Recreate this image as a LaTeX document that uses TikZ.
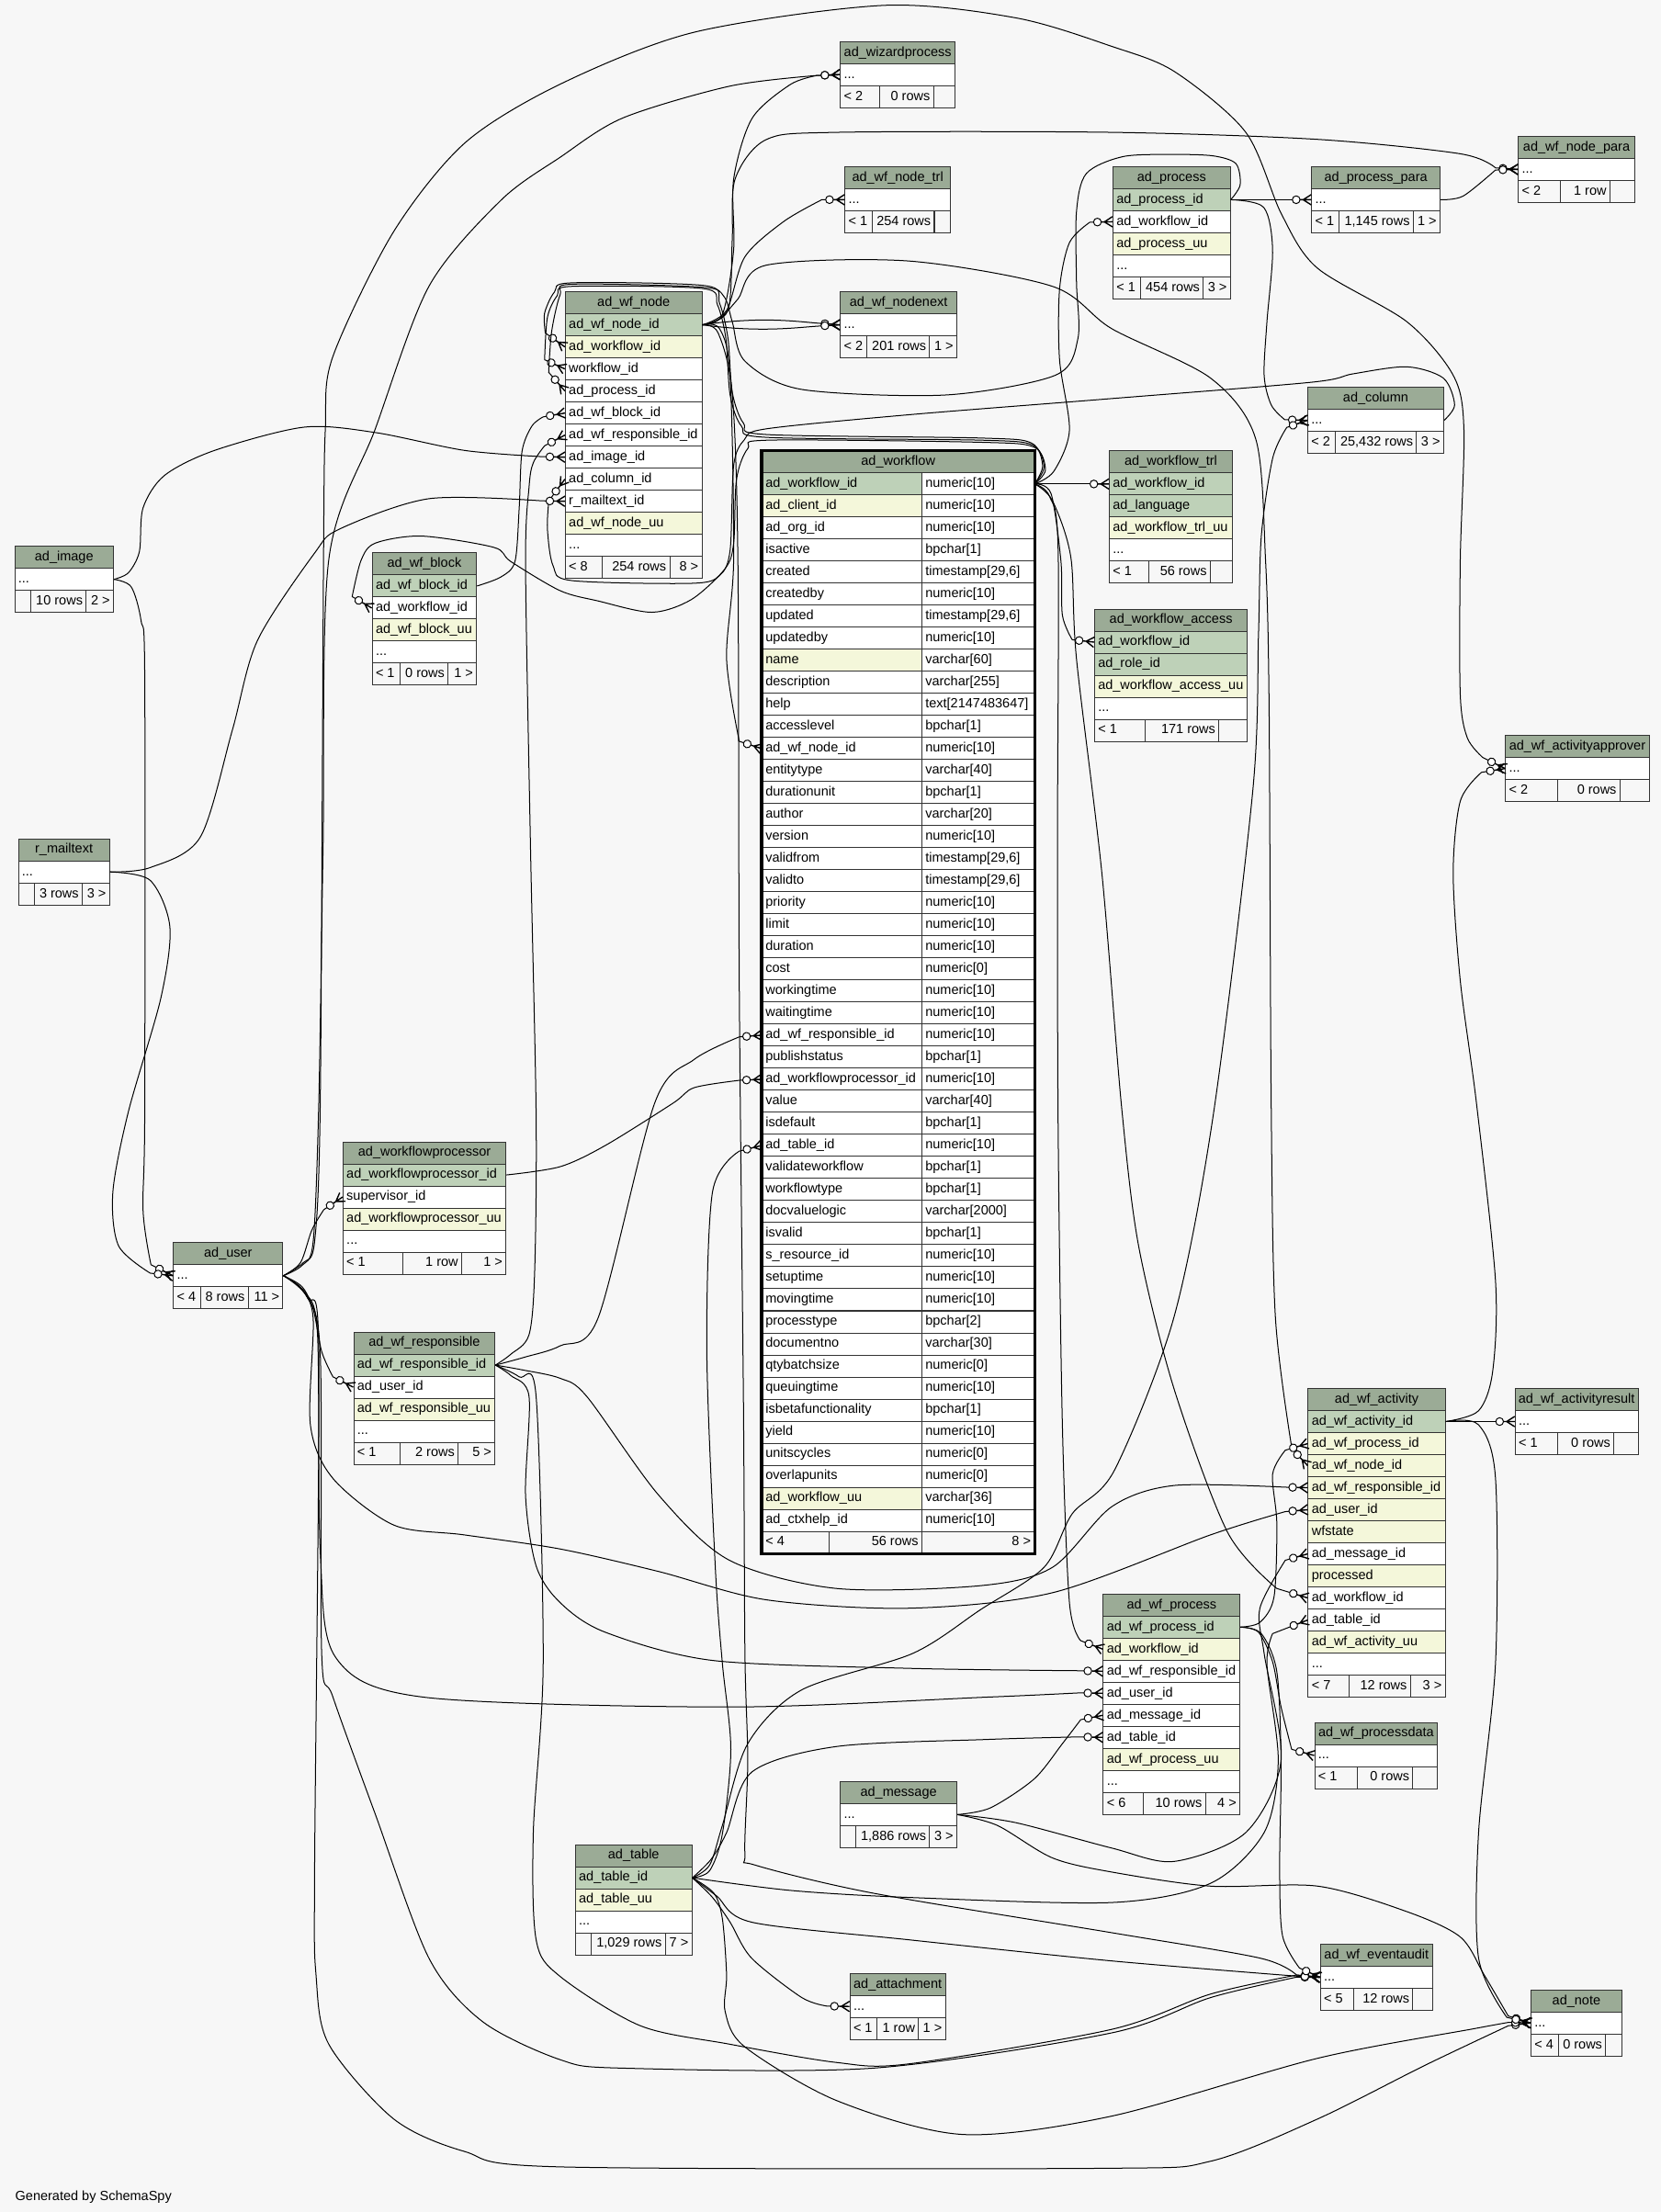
\documentclass[tikz,border=0pt]{standalone}
\usepackage{fontspec}
\setmainfont{Liberation Sans}
\usepackage{tikz}
\usetikzlibrary{arrows.meta}

\definecolor{hdcol}{HTML}{9BAB96}
\definecolor{pkcol}{HTML}{BED1B8}
\definecolor{ixcol}{HTML}{F4F7DA}
\definecolor{bgcol}{HTML}{F7F7F7}

\newcommand{\pxu}{0.7675pt}
\newcommand{\rowh}{15.63}
\newcommand{\more}{...}
\newcommand{\tblfont}{\fontsize{7.25pt}{8.7pt}\selectfont}

% zero-or-many end: open circle and crow's foot
\pgfdeclarearrow{
  name = crowdot,
  setup code = {
    \pgfarrowssettipend{0pt}
    \pgfarrowssetlineend{-10.3pt}
    \pgfarrowssetbackend{-10.3pt}
  },
  drawing code = {
    \pgfsetlinewidth{0.7pt}
    \pgfpathmoveto{\pgfpoint{0pt}{2.8pt}}
    \pgfpathlineto{\pgfpoint{-4.4pt}{0pt}}
    \pgfpathlineto{\pgfpoint{0pt}{-2.8pt}}
    \pgfpathmoveto{\pgfpoint{0pt}{0pt}}
    \pgfpathlineto{\pgfpoint{-6.1pt}{0pt}}
    \pgfusepathqstroke
    \pgfsetlinewidth{0.5pt}
    \pgfpathcircle{\pgfpoint{-8.2pt}{0pt}}{2.1pt}
    \pgfsetfillcolor{white}
    \pgfusepathqfillstroke
  },
  parameters = {}
}

\tikzset{
  tcell/.style={
    draw=black!80,
    line width=0.5pt,
    anchor=north west,
    inner xsep=1.92pt,
    inner ysep=0pt,
    minimum height=12pt,
    text height=5.4pt,
    text depth=1.6pt,
    font=\tblfont
  },
  fk/.style={
    draw=black,
    line width=0.5pt,
    line join=round,
    -{crowdot}
  },
  thickframe/.style={
    draw=black,
    line width=1.6pt
  }
}

% one cell: name, left, top, width, fill, align, text
\newcommand{\dbcell}[7]{%
  \pgfmathsetlengthmacro{\cellw}{#4*\pxu-3.84pt}%
  \node[tcell, fill=#5] (#1) at ({#2},{#3}) {\makebox[\cellw][#6]{\ignorespaces#7\unskip}};%
}
% table: name, left, top, width, title, rows
\newcommand{\dbtable}[6]{%
  \dbcell{#1}{#2}{#3}{#4}{hdcol}{c}{#5}
  \foreach \txt/\kind [count=\i] in {#6}{%
    \dbcell{#1-\i}{#2}{#3+\i*\rowh}{#4}{\kind}{l}{\txt}
    \xdef\nrows{\i}}%
  \xdef\tleft{#2}\xdef\ttop{#3}\xdef\twidth{#4}%
}
% footer: name, divider 1, divider 2, texts
\newcommand{\dbfoot}[6]{%
  \pgfmathsetmacro{\ftop}{\ttop+(\nrows+1)*\rowh}%
  \pgfmathsetmacro{\fwa}{#2-\tleft}%
  \pgfmathsetmacro{\fwb}{#3-#2}%
  \pgfmathsetmacro{\fwc}{\tleft+\twidth-#3}%
  \dbcell{#1-l}{\tleft}{\ftop}{\fwa}{bgcol}{l}{#4}
  \dbcell{#1-m}{#2}{\ftop}{\fwb}{bgcol}{r}{#5}
  \dbcell{#1-r}{#3}{\ftop}{\fwc}{bgcol}{r}{#6}%
}

\begin{document}
\begin{tikzpicture}[x=0.7675pt, y=-0.7675pt]

\fill[bgcol] (0,0) rectangle (1177,1568);
\useasboundingbox (0,0) rectangle (1177,1568);

% tables
\dbtable{wizard}{595.3}{29.1}{81.3}{ad\_wizardprocess}{\more/white}
\dbfoot{wizard}{622.9}{661.4}{< 2}{0 rows}{}

\dbtable{nodetrl}{598.6}{117.8}{74.7}{ad\_wf\_node\_trl}{\more/white}
\dbfoot{nodetrl}{618.1}{661.9}{< 1}{254 rows}{}

\dbtable{nodenext}{595.3}{206.5}{82.6}{ad\_wf\_nodenext}{\more/white}
\dbfoot{nodenext}{614.3}{658.6}{< 2}{201 rows}{1 >}

\dbtable{wfnode}{400.4}{206.5}{96.8}{ad\_wf\_node}{ad\_wf\_node\_id/pkcol,%
ad\_workflow\_id/ixcol,workflow\_id/white,ad\_process\_id/white,%
ad\_wf\_block\_id/white,ad\_wf\_responsible\_id/white,ad\_image\_id/white,%
ad\_column\_id/white,r\_mailtext\_id/white,ad\_wf\_node\_uu/ixcol,\more/white}
\dbfoot{wfnode}{426.3}{474.4}{< 8}{254 rows}{8 >}

\dbtable{process}{788.5}{117.8}{83.2}{ad\_process}{ad\_process\_id/pkcol,%
ad\_workflow\_id/white,ad\_process\_uu/ixcol,\more/white}
\dbfoot{process}{807.8}{852.6}{< 1}{454 rows}{3 >}

\dbtable{procpara}{929.4}{117.8}{91}{ad\_process\_para}{\more/white}
\dbfoot{procpara}{948.7}{1001.4}{< 1}{1,145 rows}{1 >}

\dbtable{nodepara}{1075.9}{96.3}{82.4}{ad\_wf\_node\_para}{\more/white}
\dbfoot{nodepara}{1105.8}{1140.8}{< 2}{1 row}{}

\dbtable{column}{926.6}{274.2}{96.3}{ad\_column}{\more/white}
\dbfoot{column}{946.2}{1003.7}{< 2}{25,432 rows}{3 >}

\dbtable{wftrl}{786}{319.3}{87.2}{ad\_workflow\_trl}{ad\_workflow\_id/pkcol,%
ad\_language/pkcol,ad\_workflow\_trl\_uu/ixcol,\more/white}
\dbfoot{wftrl}{813.9}{857.5}{< 1}{56 rows}{}

\dbtable{wfaccess}{775.5}{431.4}{108.3}{ad\_workflow\_access}{ad\_workflow\_id/pkcol,%
ad\_role\_id/pkcol,ad\_workflow\_access\_uu/ixcol,\more/white}
\dbfoot{wfaccess}{811.3}{863.6}{< 1}{171 rows}{}

\dbtable{approver}{1066.8}{521}{101.8}{ad\_wf\_activityapprover}{\more/white}
\dbfoot{approver}{1104}{1147.9}{< 2}{0 rows}{}

\dbtable{image}{10.1}{386.9}{70}{ad\_image}{\more/white}
\dbfoot{image}{21.5}{60.8}{}{10 rows}{2 >}

\dbtable{block}{263.5}{391.6}{74}{ad\_wf\_block}{ad\_wf\_block\_id/pkcol,%
ad\_workflow\_id/white,ad\_wf\_block\_uu/ixcol,\more/white}
\dbfoot{block}{283.3}{317.3}{< 1}{0 rows}{1 >}

\dbtable{mailtext}{12.7}{594.3}{64.6}{r\_mailtext}{\more/white}
\dbfoot{mailtext}{24.3}{58}{}{3 rows}{3 >}

\dbtable{processor}{242.8}{809.1}{115.5}{ad\_workflowprocessor}{ad\_workflowprocessor\_id/pkcol,%
supervisor\_id/white,ad\_workflowprocessor\_uu/ixcol,\more/white}
\dbfoot{processor}{285.1}{326.9}{< 1}{1 row}{1 >}

\dbtable{user}{122.6}{880.5}{77.6}{ad\_user}{\more/white}
\dbfoot{user}{142.2}{175.6}{< 4}{8 rows}{11 >}

\dbtable{resp}{250.4}{943.9}{100.1}{ad\_wf\_responsible}{ad\_wf\_responsible\_id/pkcol,%
ad\_user\_id/white,ad\_wf\_responsible\_uu/ixcol,\more/white}
\dbfoot{resp}{283.3}{324.4}{< 1}{2 rows}{5 >}

\dbtable{activity}{926.9}{983.9}{97.1}{ad\_wf\_activity}{ad\_wf\_activity\_id/pkcol,%
ad\_wf\_process\_id/ixcol,ad\_wf\_node\_id/ixcol,ad\_wf\_responsible\_id/ixcol,%
ad\_user\_id/ixcol,wfstate/ixcol,ad\_message\_id/white,processed/ixcol,%
ad\_workflow\_id/white,ad\_table\_id/white,ad\_wf\_activity\_uu/ixcol,\more/white}
\dbfoot{activity}{955.8}{999.4}{< 7}{12 rows}{3 >}

\dbtable{actresult}{1073.6}{983.9}{87.2}{ad\_wf\_activityresult}{\more/white}
\dbfoot{actresult}{1104}{1143.6}{< 1}{0 rows}{}

\dbtable{wfprocess}{781.7}{1129.6}{96.8}{ad\_wf\_process}{ad\_wf\_process\_id/pkcol,%
ad\_workflow\_id/ixcol,ad\_wf\_responsible\_id/white,ad\_user\_id/white,%
ad\_message\_id/white,ad\_table\_id/white,ad\_wf\_process\_uu/ixcol,\more/white}
\dbfoot{wfprocess}{810.3}{854.2}{< 6}{10 rows}{4 >}

\dbtable{procdata}{931.5}{1220.6}{87.1}{ad\_wf\_processdata}{\more/white}
\dbfoot{procdata}{961.9}{1001.1}{< 1}{0 rows}{}

\dbtable{audit}{935.5}{1377.8}{79.6}{ad\_wf\_eventaudit}{\more/white}
\dbfoot{audit}{959.3}{1001.1}{< 5}{12 rows}{}

\dbtable{note}{1084.8}{1410.2}{64.4}{ad\_note}{\more/white}
\dbfoot{note}{1104.3}{1137.8}{< 4}{0 rows}{}

\dbtable{message}{595.3}{1262.5}{82.6}{ad\_message}{\more/white}
\dbfoot{message}{606.5}{658.6}{}{1,886 rows}{3 >}

\dbtable{tbl}{407.5}{1307.3}{82.6}{ad\_table}{ad\_table\_id/pkcol,ad\_table\_uu/ixcol,\more/white}
\dbfoot{tbl}{418.9}{471.2}{}{1,029 rows}{7 >}

\dbtable{attach}{602.1}{1398.5}{67.7}{ad\_attachment}{\more/white}
\dbfoot{attach}{621.1}{650.8}{< 1}{1 row}{1 >}

% the focused table
\dbcell{wf}{539.8}{319.3}{193}{hdcol}{c}{ad\_workflow}
\foreach \nm/\ty/\kind [count=\i] in {ad\_workflow\_id/numeric[10]/pkcol,%
  ad\_client\_id/numeric[10]/ixcol,ad\_org\_id/numeric[10]/white,isactive/bpchar[1]/white,%
  created/{timestamp[29,6]}/white,createdby/numeric[10]/white,updated/{timestamp[29,6]}/white,%
  updatedby/numeric[10]/white,name/varchar[60]/ixcol,description/varchar[255]/white,%
  help/text[2147483647]/white,accesslevel/bpchar[1]/white,ad\_wf\_node\_id/numeric[10]/white,%
  entitytype/varchar[40]/white,durationunit/bpchar[1]/white,author/varchar[20]/white,%
  version/numeric[10]/white,validfrom/{timestamp[29,6]}/white,validto/{timestamp[29,6]}/white,%
  priority/numeric[10]/white,limit/numeric[10]/white,duration/numeric[10]/white,%
  cost/numeric[0]/white,workingtime/numeric[10]/white,waitingtime/numeric[10]/white,%
  ad\_wf\_responsible\_id/numeric[10]/white,publishstatus/bpchar[1]/white,%
  ad\_workflowprocessor\_id/numeric[10]/white,value/varchar[40]/white,isdefault/bpchar[1]/white,%
  ad\_table\_id/numeric[10]/white,validateworkflow/bpchar[1]/white,workflowtype/bpchar[1]/white,%
  docvaluelogic/varchar[2000]/white,isvalid/bpchar[1]/white,s\_resource\_id/numeric[10]/white,%
  setuptime/numeric[10]/white,movingtime/numeric[10]/white,processtype/bpchar[2]/white,%
  documentno/varchar[30]/white,qtybatchsize/numeric[0]/white,queuingtime/numeric[10]/white,%
  isbetafunctionality/bpchar[1]/white,yield/numeric[10]/white,unitscycles/numeric[0]/white,%
  overlapunits/numeric[0]/white,ad\_workflow\_uu/varchar[36]/ixcol,ad\_ctxhelp\_id/numeric[10]/white}{%
  \dbcell{wf-\i}{539.8}{319.3+\i*\rowh}{113.3}{\kind}{l}{\nm}
  \dbcell{wf-\i-t}{653.1}{319.3+\i*\rowh}{79.7}{white}{l}{\ty}}
\xdef\tleft{539.8}\xdef\ttop{319.3}\xdef\twidth{193}\xdef\nrows{48}
\dbfoot{wf}{587.2}{653.1}{< 4}{56 rows}{8 >}
\draw[thickframe] (wf.north west) rectangle (wf-r.south east);

\node[anchor=base west, font=\tblfont, inner sep=0pt] (credit) at (10.6,1560) {Generated by SchemaSpy};

% relations from ad_workflow
\draw[fk] (wf-1-t.east) -- (wftrl-1.west);
\draw[fk] plot[smooth] coordinates {(wf-1-t.east) (745,350) (752,398) (753,436) (760,453.5)} -- (wfaccess-1.west);
\draw[fk] plot[smooth] coordinates {(wf-1-t.east) (747,334) (758,305) (751,255) (751,205) (758,172) (772.5,157.5)} -- (process-2.west);
\draw[fk] plot[smooth] coordinates {(wf-1-t.east) (739,330) (731,314) (695,310.5) (543,308) (527,300) (519,278) (516,240) (510,215) (500,202.5) (405,200.5) (393,207) (386,222) (386.5,236)} -- (wfnode-2.west);
\draw[fk] plot[smooth] coordinates {(wf-1-t.east) (740,331) (732,315.5) (695,312) (543,310) (525.5,302) (517.5,280) (514.5,240) (508.5,216) (498,204.5) (405,203) (395,209.5) (388,225) (386,255)} -- (wfnode-3.west);
\draw[fk] plot[smooth] coordinates {(wf-1-t.east) (741,333) (733,317) (695,313.5) (545,312) (530,318) (522,340) (520,385) (514,403) (490,425) (462,434) (424,426) (397,418.7) (362,398) (350,388) (299,380) (266,385) (256,397) (249.6,422.9)} -- (block-2.west);
\draw[fk] plot[smooth] coordinates {(wf-1-t.east) (744,352) (750,390) (749.5,600) (750,800) (753,1010) (758,1136) (766,1163)} -- (wfprocess-2.west);
\draw[fk] plot[smooth] coordinates {(wf-1-t.east) (746,355) (759,395) (763,467) (781,619) (795,785) (807,883) (832,984) (870,1086) (905,1126)} -- (activity-9.west);

% relations from ad_wf_node
\draw[fk] plot[smooth] coordinates {(wfnode-1.east) (512,223) (520,177) (520,127) (533,84) (560,60) (579,53.5)} -- (wizard-1.west);
\draw[fk] plot[smooth] coordinates {(wfnode-1.east) (515,220) (528,182) (555.5,157) (582.6,141.5)} -- (nodetrl-1.west);
\draw[fk] plot[smooth] coordinates {(wfnode-1.east) (516,220) (519,170) (521,127) (543,99) (593,93.8) (788,93.8) (934,98.8) (1035,109) (1060,119)} -- (nodepara-1.west);
\draw[fk] (wfnode-1.east) .. controls (540,224) and (565,228) .. (nodenext-1.west);
\draw[fk] (wfnode-1.east) .. controls (540,236) and (565,232) .. (nodenext-1.west);
\draw[fk] plot[smooth] coordinates {(wfnode-1.east) (510,233) (517.5,266) (520,397) (515,467) (524,525.5)} -- (wf-13.west);
\draw[fk] plot[smooth] coordinates {(wfnode-1.east) (510,226) (523,212) (543,188) (644,185) (746,203) (788,233) (858,268) (890,311) (897,397) (899.5,500) (901,782) (904,934) (915.7,1027)} -- (activity-3.west);
\draw[fk] plot[smooth] coordinates {(wfnode-1.east) (509,236) (519,279) (523,397) (524,700) (527,1000) (528,1172) (530,1248) (528,1314) (535,1322) (619,1342) (788,1370) (893,1388) (919,1400)} -- (audit-1.west);

% relations from ad_process and its neighbours
\draw[fk] (process-1.east) -- (procpara-1.west);
\draw[fk] plot[smooth] coordinates {(process-1.east) (895.7,147) (902,177) (898,228) (896,266) (901,287) (910.6,297.5)} -- (column-1.west);
\draw[fk] plot[smooth] coordinates {(process-1.east) (879,131) (876,116) (860,110.5) (832,109.5) (796,111) (770,123) (763,150) (763,200) (764,240) (748,266) (670,280) (568,276) (528,256) (519,228) (513,210) (497,203.5) (405,201.5) (397,209) (391,235) (388.9,263.9)} -- (wfnode-4.west);
\draw[fk] plot[smooth] coordinates {(procpara-1.east) (1037,139) (1060,120.5)} -- (nodepara-1.west);
\draw[fk] plot[smooth] coordinates {(column-1.east) (1031,287) (1023,268) (997,260) (959,265) (929,271) (782,283) (644,294) (543,304) (527.6,311.7) (520,330) (517.5,390) (510,408) (490,413.5) (405,411.5) (392,401) (388,375) (389,355)} -- (wfnode-8.west);
\draw[fk] plot[smooth] coordinates {(block-1.east) (355,409) (365,398) (368,360) (370,320) (377,302) (385,295.5)} -- (wfnode-5.west);

% relations from ad_image and r_mailtext
\draw[fk] plot[smooth] coordinates {(image-1.east) (91,406) (98.8,391) (101.4,360) (116.6,337) (152,319.3) (215.4,302.8) (266,306.6) (329.4,319.3) (384,323.7)} -- (wfnode-7.west);
\draw[fk] plot[smooth] coordinates {(image-1.east) (93,416) (100,440) (102.6,480) (102.6,788) (101.4,858) (107,896.5)} -- (user-1.west);
\draw[fk] plot[smooth] coordinates {(mailtext-1.east) (106.4,615) (141.9,593.5) (164.7,517.5) (182.4,454.2) (223,392) (240.7,375) (304,353.5) (384,355)} -- (wfnode-9.west);
\draw[fk] plot[smooth] coordinates {(mailtext-1.east) (106.4,624) (120.4,657) (114,707.5) (91,788) (80,845) (84,883) (106.5,902.5)} -- (user-1.west);

% relations from ad_user
\draw[fk] plot[smooth] coordinates {(user-1.east) (215,895) (223,880) (227,780) (229.3,397.4) (230.6,304) (235.7,253.4) (278.7,164.7) (329.4,101.4) (397.4,59.5) (492.2,22.8) (626.5,3.8) (720.2,12.7) (788.1,32.9) (832.4,50.7) (883,93.8) (908.4,152) (933.7,190) (997.1,228) (1030,266) (1037.6,304) (1035,397.3) (1035,492.2) (1040,523) (1051,537)} -- (approver-1.west);
\draw[fk] plot[smooth] coordinates {(user-1.east) (214,897) (222,880) (226,780) (229,600) (233,397) (266,304) (304,203) (355,142) (397,111.5) (441.5,83.6) (517.5,61) (579,53.5)} -- (wizard-1.west);
\draw[fk] plot[smooth] coordinates {(user-1.east) (213,895) (221,872) (229.5,857.5)} -- (processor-2.west);
\draw[fk] plot[smooth] coordinates {(user-1.east) (214,912) (222,928) (228,958) (236,976)} -- (resp-2.west);
\draw[fk] plot[smooth] coordinates {(user-1.east) (214,914) (222,935) (220,1010) (236,1048) (279,1081) (329,1088) (397,1098) (467,1114) (543,1134) (644,1140) (746,1129) (858,1088) (911,1071.5)} -- (activity-5.west);
\draw[fk] plot[smooth] coordinates {(user-1.east) (216,916) (225,945) (227,1100) (238,1175) (300,1203) (517,1210) (700,1203) (765,1200)} -- (wfprocess-4.west);
\draw[fk] plot[smooth] coordinates {(user-1.east) (217,918) (227,960) (228,1172) (236,1203) (266,1286) (304,1388) (342,1433) (397,1460) (441,1466) (619,1466) (788,1441) (858,1416) (919,1401.5)} -- (audit-1.west);
\draw[fk] plot[smooth] coordinates {(user-1.east) (218,920) (226,960) (223,1324) (224,1400) (233,1449) (279,1502) (329,1525) (397,1536) (782,1537) (858,1532) (934,1502) (1010,1464) (1069,1436)} -- (note-1.west);

% relations from ad_workflowprocessor and ad_wf_responsible
\draw[fk] plot[smooth] coordinates {(processor-1.east) (397,827) (429,812) (477,782) (492,771) (524,765.8)} -- (wf-28.west);
\draw[fk] plot[smooth] coordinates {(resp-1.east) (362,960) (375,946) (379,900) (380,790) (376,600) (372.5,400) (375,345) (378,328) (386,316)} -- (wfnode-6.west);
\draw[fk] plot[smooth] coordinates {(resp-1.east) (372,962) (397,954) (424,934) (464,782) (492,751) (524,735)} -- (wf-26.west);
\draw[fk] plot[smooth] coordinates {(resp-1.east) (370,971) (397,977) (416,990) (467,1060) (517,1106) (593,1126) (695,1124) (746,1111) (788,1068) (832,1053) (911,1054.2)} -- (activity-4.west);
\draw[fk] plot[smooth] coordinates {(resp-1.east) (362,975) (375,990) (372.5,1060) (380,1110) (397,1136) (429,1157) (505,1177) (644,1182.6) (765,1184.3)} -- (wfprocess-3.west);
\draw[fk] plot[smooth] coordinates {(resp-1.east) (368,976) (380,990) (385,1179) (378,1299) (380,1375) (397,1401) (454,1436) (517,1449) (593,1462) (644,1463) (788,1438.5) (858,1413.5) (919,1400)} -- (audit-1.west);

% relations from ad_table
\draw[fk] plot[smooth] coordinates {(tbl-1.east) (503,1326) (512,1300) (518,1240) (512,1179) (507,1111) (501,959) (505,845) (524,816)} -- (wf-31.west);
\draw[fk] plot[smooth] coordinates {(tbl-1.east) (503,1322) (512,1294) (530,1236) (568,1198) (647,1172) (695,1141) (740,1111) (760,1073) (790,1042) (832,934) (860,790) (888,560) (892,450) (894,380) (902,325) (912,303)} -- (column-1.west);
\draw[fk] plot[smooth] coordinates {(tbl-1.east) (504,1318) (515,1299) (533,1256) (593,1238) (700,1233) (765,1231.2)} -- (wfprocess-6.west);
\draw[fk] plot[smooth] coordinates {(tbl-1.east) (560,1340) (644,1345) (788,1348.6) (858,1335) (896,1299) (906,1248) (898,1180) (902,1158)} -- (activity-10.west);
\draw[fk] plot[smooth] coordinates {(tbl-1.east) (505,1345) (517.5,1362.6) (532.7,1388) (568,1415.8) (586,1422)} -- (attach-1.west);
\draw[fk] plot[smooth] coordinates {(tbl-1.east) (508,1344) (533,1362.6) (644,1375) (788,1390) (919,1400.8)} -- (audit-1.west);
\draw[fk] plot[smooth] coordinates {(tbl-1.east) (506,1342) (512,1360) (515,1400) (514,1426) (528,1451) (593,1489) (682,1513) (788,1500) (934,1459) (1045,1438) (1069,1433.6)} -- (note-1.west);

% relations from ad_message
\draw[fk] plot[smooth] coordinates {(message-1.east) (720,1292) (788,1310) (832,1319.5) (883,1299) (908,1248) (896,1172) (893,1140) (911,1106)} -- (activity-7.west);
\draw[fk] plot[smooth] coordinates {(message-1.east) (702,1281.5) (733,1261) (753,1236) (766,1219)} -- (wfprocess-5.west);
\draw[fk] plot[smooth] coordinates {(message-1.east) (707,1294) (746,1317) (788,1327) (858,1337) (934,1337) (997,1355) (1035,1373) (1052,1400) (1069,1429)} -- (note-1.west);

% relations from ad_wf_activity and ad_wf_process
\draw[fk] (activity-1.east) -- (actresult-1.west);
\draw[fk] plot[smooth] coordinates {(activity-1.east) (1048,1000) (1058,972) (1060,908) (1046.5,782) (1035,695) (1030,619) (1035,568) (1050,547.5)} -- (approver-1.west);
\draw[fk] plot[smooth] coordinates {(activity-1.east) (1048,1010) (1060,1048) (1060,1179) (1048,1299) (1048,1388) (1068,1430)} -- (note-1.west);
\draw[fk] plot[smooth] coordinates {(wfprocess-1.east) (893,1150) (903,1132) (905,1080) (902,1045) (911,1028)} -- (activity-2.west);
\draw[fk] plot[smooth] coordinates {(wfprocess-1.east) (892,1157) (902,1178) (908,1210) (915.5,1240)} -- (procdata-1.west);
\draw[fk] plot[smooth] coordinates {(wfprocess-1.east) (894,1158) (905,1185) (908,1248) (907,1324) (909,1372) (921,1395)} -- (audit-1.west);

\end{tikzpicture}
\end{document}
